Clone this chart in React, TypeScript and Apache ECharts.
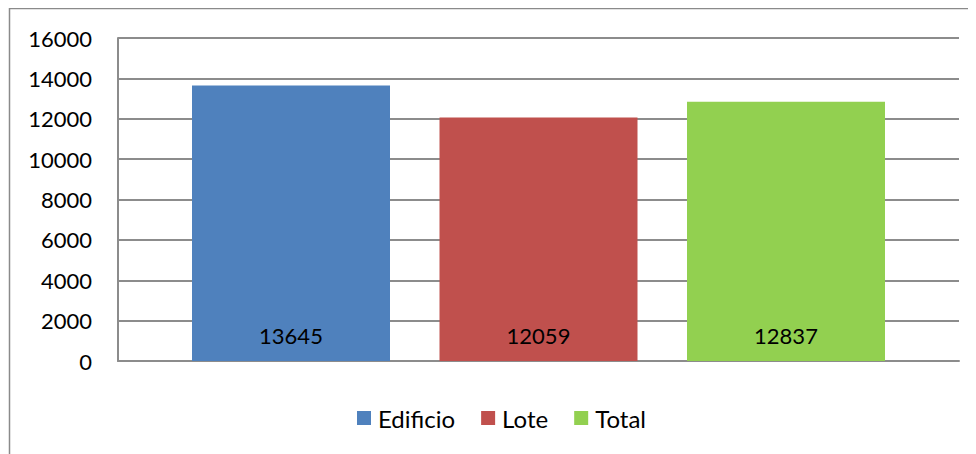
import React, { useEffect, useRef } from "react";
import * as echarts from "echarts";

const categories = [""];
const seriesNames = ["Edificio", "Lote", "Total"];
const seriesValues = [[13645], [12059], [12837]];
const seriesColors = ["#4F81BD", "#C0504D", "#92D050"];
const yTicks = { min: 0, max: 16000, interval: 2000 };

const FONT = "Lato, 'Open Sans', sans-serif";

export default function App() {
  const ref = useRef<HTMLDivElement>(null);

  useEffect(() => {
    if (!ref.current) return;
    const chart = echarts.init(ref.current, undefined, { renderer: "svg" });
    chart.setOption({
      animation: false,
      backgroundColor: "#ffffff",
      graphic: [
        {
          type: "rect",
          shape: { x: 1.5, y: 0.5, width: 1200, height: 1200 },
          style: { fill: "none", stroke: "#8a8a8a", lineWidth: 1.5 },
          silent: true,
          z: -1,
        },
      ],
      grid: { left: 110, top: 30, right: 17, bottom: 93, containLabel: false },
      legend: {
        left: 344,
        top: 393,
        itemWidth: 14,
        itemHeight: 14,
        itemGap: 26,
        icon: "rect",
        textStyle: {
          fontFamily: FONT,
          fontSize: 24,
          color: "#000",
          padding: [0, 0, 0, 2],
        },
        data: seriesNames,
      },
      xAxis: {
        type: "category",
        data: categories,
        axisLine: { show: true, lineStyle: { color: "#8c8c8c", width: 2 } },
        axisTick: { show: false },
        axisLabel: { show: false },
      },
      yAxis: {
        type: "value",
        min: yTicks.min,
        max: yTicks.max,
        interval: yTicks.interval,
        axisLine: { show: true, lineStyle: { color: "#8c8c8c", width: 2 } },
        axisTick: { show: false },
        axisLabel: {
          fontFamily: FONT,
          fontSize: 22,
          color: "#000",
          margin: 26,
          formatter: (v: number) => String(v),
        },
        splitLine: { show: true, lineStyle: { color: "#8c8c8c", width: 2 } },
      },
      series: seriesNames.map((name, i) => ({
        name,
        type: "bar",
        data: seriesValues[i],
        barWidth: 198,
        barGap: "25%",
        itemStyle: { color: seriesColors[i] },
        label: {
          show: true,
          position: "insideBottom",
          distance: 15,
          fontFamily: FONT,
          fontSize: 22,
          color: "#000",
        },
      })),
    });
    return () => chart.dispose();
  }, []);

  return <div ref={ref} style={{ width: 968, height: 446 }} />;
}
